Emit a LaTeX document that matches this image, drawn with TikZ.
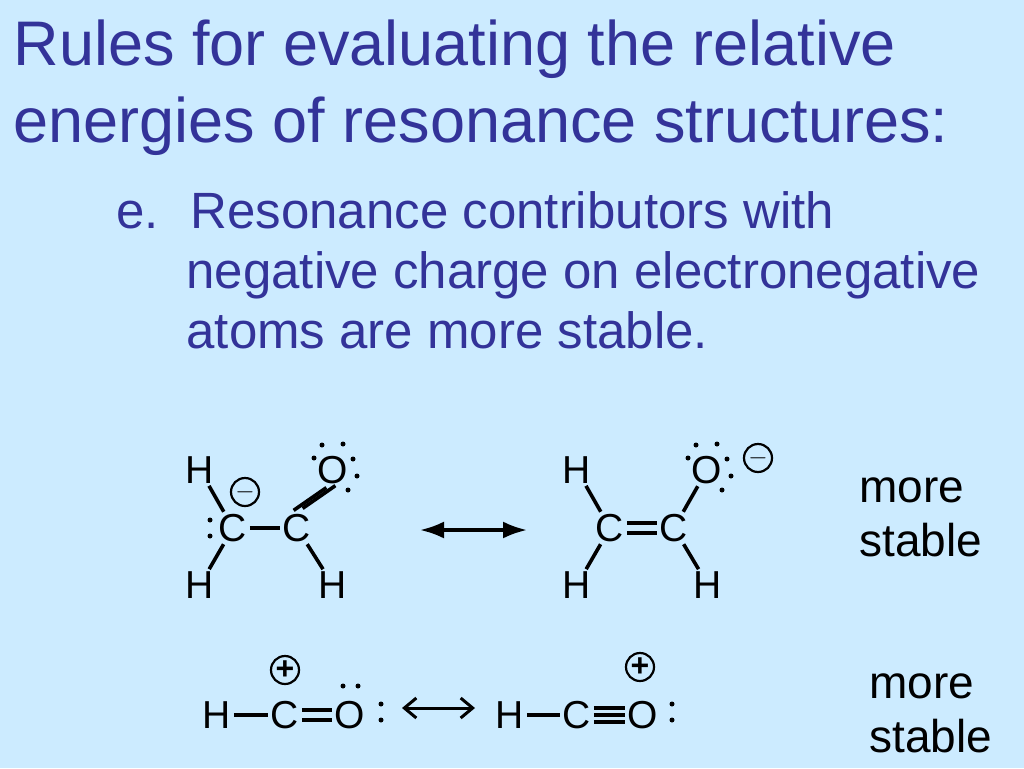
\documentclass[tikz,border=0pt]{standalone}
\usepackage{fontspec}
\setmainfont{Liberation Sans}
\usetikzlibrary{arrows.meta}
\definecolor{bg}{HTML}{CCEBFF}
\definecolor{ttl}{HTML}{333399}
\begin{document}
\begin{tikzpicture}[x=1pt,y=-1pt,
  atom/.style={inner sep=0.5pt,font=\fontsize{39}{39}\selectfont},
  bond/.style={line width=3.6pt,shorten <=2pt,shorten >=2pt},
  dot/.style={circle,fill=black,inner sep=0pt,minimum size=5pt},
  chg/.style={circle,draw,line width=2.2pt,inner sep=0pt,minimum size=28pt,font=\fontsize{32}{32}\selectfont\bfseries},
  ttlt/.style={anchor=base west,text=ttl,font=\fontsize{63}{63}\selectfont},
  bodyt/.style={anchor=base west,text=ttl,font=\fontsize{51}{51}\selectfont},
  lbl/.style={anchor=base west,font=\fontsize{46}{46}\selectfont},
  rarrow/.style={line width=3.2pt,{Latex[length=24pt,width=17pt]}-{Latex[length=24pt,width=17pt]}},
  rarrow2/.style={line width=3pt,{Straight Barb[length=12pt,width=20pt]}-{Straight Barb[length=12pt,width=20pt]}}]
\fill[bg] (0,0) rectangle (1024,768);
\useasboundingbox (0,0) rectangle (1024,768);
\node[ttlt] (t1) at (10,66) {Rules for evaluating the relative};
\node[ttlt] (t2) at (10,142) {energies of resonance structures:};
\node[bodyt] (e) at (113,228) {e.};
\node[bodyt] (b1) at (187,228) {Resonance contributors with};
\node[bodyt] (b2) at (183,288) {negative charge on electronegative};
\node[bodyt] (b3) at (183,348) {atoms are more stable.};
% structure 1
\node[atom] (h1) at (200,470) {H};
\node[atom] (c1) at (233,528) {C};
\node[atom] (c2) at (297,528) {C};
\node[atom] (o1) at (333,470) {O};
\node[atom] (h2) at (200,585) {H};
\node[atom] (h3) at (333,585) {H};
\node[chg] (m1) at (245,492) {$-$};
\node[dot] (d1) at (210,520) {}; \node[dot] (d2) at (210,536) {};
\node[dot] (d3) at (314,458) {}; \node[dot] (d4) at (322,445) {};
\node[dot] (d5) at (343,444) {}; \node[dot] (d6) at (353,459) {};
\node[dot] (d7) at (357,476) {}; \node[dot] (d8) at (348,490) {};
\draw[bond] (h1) -- (c1);
\draw[bond] (c1) -- (h2);
\draw[bond] (c1) -- (c2);
\draw[bond] (c2) -- (h3);
\draw[bond] ([xshift=-5pt,yshift=2pt]c2.north) -- ([xshift=-5pt,yshift=-2pt]o1.south);
\draw[bond] ([xshift=4pt,yshift=4pt]c2.north) -- ([xshift=4pt]o1.south);
\coordinate (a1) at (420,530); \coordinate (a2) at (527,530);
\draw[rarrow] (a1) -- (a2);
% structure 2
\node[atom] (h4) at (577,470) {H};
\node[atom] (c3) at (610,528) {C};
\node[atom] (c4) at (674,528) {C};
\node[atom] (o2) at (707,470) {O};
\node[atom] (h5) at (577,585) {H};
\node[atom] (h6) at (708,585) {H};
\node[chg] (m2) at (758,458) {$-$};
\node[dot] (e3) at (688,458) {}; \node[dot] (e4) at (696,445) {};
\node[dot] (e5) at (717,444) {}; \node[dot] (e6) at (727,459) {};
\node[dot] (e7) at (731,476) {}; \node[dot] (e8) at (722,490) {};
\draw[bond] (h4) -- (c3);
\draw[bond] (c3) -- (h5);
\draw[bond] ([yshift=-5pt]c3.east) -- ([yshift=-5pt]c4.west);
\draw[bond] ([yshift=5pt]c3.east) -- ([yshift=5pt]c4.west);
\draw[bond] (c4) -- (o2);
\draw[bond] (c4) -- (h6);
\node[lbl] (ms1) at (856,502) {more};
\node[lbl] (ms2) at (856,556) {stable};
% row 2
\node[atom] (h7) at (217,715) {H};
\node[atom] (c5) at (285,715) {C};
\node[atom] (o3) at (350,715) {O};
\node[chg] (p1) at (285,670) {+};
\node[dot] (f1) at (343,686) {}; \node[dot] (f2) at (358,686) {};
\node[dot] (f3) at (381,704) {}; \node[dot] (f4) at (381,720) {};
\draw[bond] (h7) -- (c5);
\draw[bond] ([yshift=-5pt]c5.east) -- ([yshift=-5pt]o3.west);
\draw[bond] ([yshift=5pt]c5.east) -- ([yshift=5pt]o3.west);
\coordinate (a3) at (402,708); \coordinate (a4) at (475,708);
\draw[rarrow2] (a3) -- (a4);
\node[atom] (h8) at (510,715) {H};
\node[atom] (c6) at (577,715) {C};
\node[atom] (o4) at (643,715) {O};
\node[chg] (p2) at (640,667) {+};
\node[dot] (g3) at (672,704) {}; \node[dot] (g4) at (672,720) {};
\draw[bond] (h8) -- (c6);
\draw[bond] ([yshift=-7pt]c6.east) -- ([yshift=-7pt]o4.west);
\draw[bond] (c6.east) -- (o4.west);
\draw[bond] ([yshift=7pt]c6.east) -- ([yshift=7pt]o4.west);
\node[lbl] (ms3) at (866,698) {more};
\node[lbl] (ms4) at (866,752) {stable};
\end{tikzpicture}
\end{document}
